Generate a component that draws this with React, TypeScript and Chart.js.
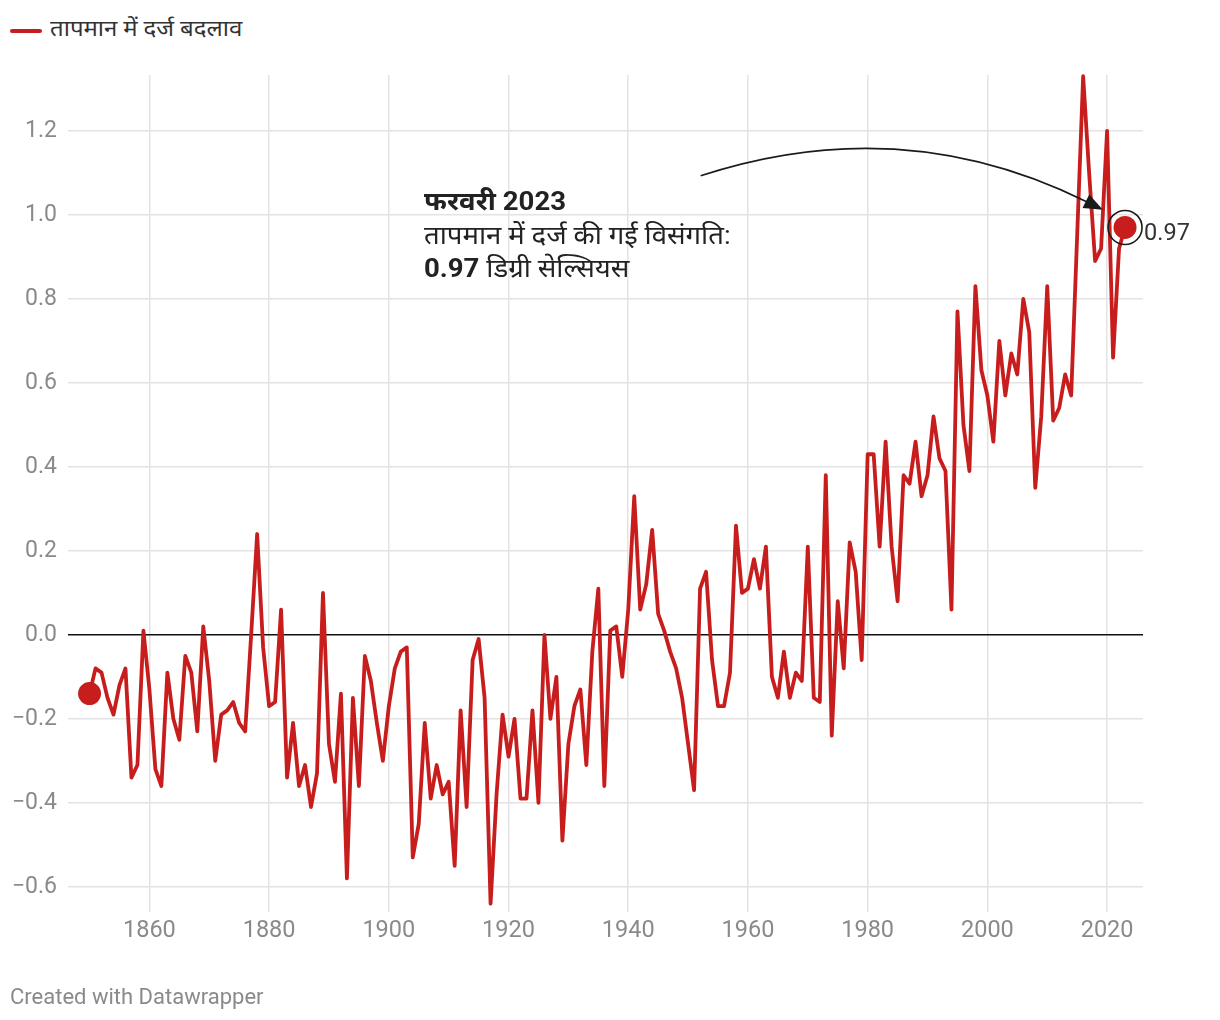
import React, { useEffect, useRef } from "react";
import { Chart, registerables } from "chart.js";

Chart.register(...registerables);

// ---- data ----
const FIRST_YEAR = 1850;
const TEMP_CHANGE: number[] = [
  // 1850s
  -0.14, -0.08, -0.09, -0.15, -0.19, -0.12, -0.08, -0.34, -0.31, 0.01,
  // 1860s
  -0.13, -0.32, -0.36, -0.09, -0.2, -0.25, -0.05, -0.09, -0.23, 0.02,
  // 1870s
  -0.11, -0.3, -0.19, -0.18, -0.16, -0.21, -0.23, 0.0, 0.24, -0.03,
  // 1880s
  -0.17, -0.16, 0.06, -0.34, -0.21, -0.36, -0.31, -0.41, -0.33, 0.1,
  // 1890s
  -0.26, -0.35, -0.14, -0.58, -0.15, -0.36, -0.05, -0.11, -0.21, -0.3,
  // 1900s
  -0.17, -0.08, -0.04, -0.03, -0.53, -0.45, -0.21, -0.39, -0.31, -0.38,
  // 1910s
  -0.35, -0.55, -0.18, -0.41, -0.06, -0.01, -0.15, -0.64, -0.38, -0.19,
  // 1920s
  -0.29, -0.2, -0.39, -0.39, -0.18, -0.4, 0.0, -0.2, -0.1, -0.49,
  // 1930s
  -0.26, -0.17, -0.13, -0.31, -0.04, 0.11, -0.36, 0.01, 0.02, -0.1,
  // 1940s
  0.06, 0.33, 0.06, 0.12, 0.25, 0.05, 0.01, -0.04, -0.08, -0.15,
  // 1950s
  -0.26, -0.37, 0.11, 0.15, -0.06, -0.17, -0.17, -0.09, 0.26, 0.1,
  // 1960s
  0.11, 0.18, 0.11, 0.21, -0.1, -0.15, -0.04, -0.15, -0.09, -0.11,
  // 1970s
  0.21, -0.15, -0.16, 0.38, -0.24, 0.08, -0.08, 0.22, 0.15, -0.06,
  // 1980s
  0.43, 0.43, 0.21, 0.46, 0.21, 0.08, 0.38, 0.36, 0.46, 0.33,
  // 1990s
  0.38, 0.52, 0.42, 0.39, 0.06, 0.77, 0.5, 0.39, 0.83, 0.63,
  // 2000s
  0.57, 0.46, 0.7, 0.57, 0.67, 0.62, 0.8, 0.72, 0.35, 0.52,
  // 2010s
  0.83, 0.51, 0.54, 0.62, 0.57, 0.95, 1.33, 1.1, 0.89, 0.92,
  // 2020s
  1.2, 0.66, 0.92, 0.97,
];
const YEARS: number[] = TEMP_CHANGE.map((_, i) => FIRST_YEAR + i);

const X_TICKS = [1860, 1880, 1900, 1920, 1940, 1960, 1980, 2000, 2020];
const Y_TICKS = [-0.6, -0.4, -0.2, 0, 0.2, 0.4, 0.6, 0.8, 1.0, 1.2];

const SERIES_LABEL = "तापमान में दर्ज बदलाव";
const ANNOTATION_TITLE = "फरवरी 2023";
const ANNOTATION_LINE2 = "तापमान में दर्ज की गई विसंगति:";
const ANNOTATION_VALUE = "0.97";
const ANNOTATION_UNIT = " डिग्री सेल्सियस";
const CREDIT = "Created with Datawrapper";

// ---- styles ----
const RED = "#c71e1d";
const GRID = "#e3e3e3";
const TICK_COLOR = "#8a8a8a";
const TEXT = "#222222";
const FONT = "Roboto, 'Noto Sans', sans-serif";

// annotation arrow, in data coordinates (year, value)
const ARROW_FROM = [1952.1, 1.093];
const ARROW_CTRL = [1985.8, 1.25];
const ARROW_TO = [2019.3, 1.012];

const fmtY = (v: number) => {
  const s = Math.abs(v).toFixed(1);
  return v < -1e-9 ? "\u2212" + s : s;
};

const overlayPlugin = {
  id: "overlay",
  beforeDatasetsDraw(chart: any) {
    const { ctx, chartArea, scales } = chart;
    const y0 = scales.y.getPixelForValue(0);
    ctx.save();
    ctx.strokeStyle = "#111";
    ctx.lineWidth = 1.5;
    ctx.beginPath();
    ctx.moveTo(chartArea.left, y0);
    ctx.lineTo(chartArea.right, y0);
    ctx.stroke();
    ctx.restore();
  },
  afterDatasetsDraw(chart: any) {
    const { ctx, scales } = chart;
    const xs = scales.x;
    const ys = scales.y;
    const meta = chart.getDatasetMeta(0);
    const last = meta.data[meta.data.length - 1];
    ctx.save();
    // ring around last point
    ctx.strokeStyle = "#1a1a1a";
    ctx.lineWidth = 1.6;
    ctx.beginPath();
    ctx.arc(last.x, last.y, 17, 0, Math.PI * 2);
    ctx.stroke();
    // value label
    ctx.fillStyle = "#333";
    ctx.font = `23.5px ${FONT}`;
    ctx.textAlign = "left";
    ctx.textBaseline = "alphabetic";
    ctx.fillText(TEMP_CHANGE[TEMP_CHANGE.length - 1].toFixed(2), last.x + 19, last.y + 13);
    // arrow
    const p0 = [xs.getPixelForValue(ARROW_FROM[0]), ys.getPixelForValue(ARROW_FROM[1])];
    const p1 = [xs.getPixelForValue(ARROW_CTRL[0]), ys.getPixelForValue(ARROW_CTRL[1])];
    const p2 = [xs.getPixelForValue(ARROW_TO[0]), ys.getPixelForValue(ARROW_TO[1])];
    let dx = p2[0] - p1[0];
    let dy = p2[1] - p1[1];
    const len = Math.hypot(dx, dy);
    dx /= len;
    dy /= len;
    const headLen = 19;
    const headW = 7.5;
    const bx = p2[0] - dx * headLen;
    const by = p2[1] - dy * headLen;
    ctx.strokeStyle = "#1a1a1a";
    ctx.lineWidth = 1.6;
    ctx.beginPath();
    ctx.moveTo(p0[0], p0[1]);
    ctx.quadraticCurveTo(p1[0], p1[1], bx + dx * 2, by + dy * 2);
    ctx.stroke();
    ctx.fillStyle = "#1a1a1a";
    ctx.beginPath();
    ctx.moveTo(p2[0], p2[1]);
    ctx.lineTo(bx - dy * headW, by + dx * headW);
    ctx.lineTo(bx + dy * headW, by - dx * headW);
    ctx.closePath();
    ctx.fill();
    ctx.restore();
  },
};

export default function App() {
  const canvasRef = useRef<HTMLCanvasElement | null>(null);

  useEffect(() => {
    const canvas = canvasRef.current;
    if (!canvas) return;
    const lastIdx = TEMP_CHANGE.length - 1;
    const chart = new Chart(canvas, {
      type: "line",
      data: {
        datasets: [
          {
            label: SERIES_LABEL,
            data: YEARS.map((yr, i) => ({ x: yr, y: TEMP_CHANGE[i] })),
            borderColor: RED,
            backgroundColor: RED,
            borderWidth: 3.8,
            borderJoinStyle: "round",
            tension: 0,
            clip: false,
            pointRadius: (c: any) => (c.dataIndex === 0 || c.dataIndex === lastIdx ? 11.5 : 0),
            pointBackgroundColor: RED,
            pointBorderWidth: 0,
            pointHoverRadius: 0,
          } as any,
        ],
      },
      options: {
        responsive: false,
        animation: false,
        events: [],
        layout: { padding: { top: 75, right: 77, bottom: 58, left: 0 } },
        plugins: {
          legend: { display: false },
          tooltip: { enabled: false },
        },
        scales: {
          x: {
            type: "linear",
            min: 1846.4,
            max: 2026,
            afterBuildTicks: (s: any) => {
              s.ticks = X_TICKS.map((v) => ({ value: v }));
            },
            afterFit: (s: any) => {
              s.height = 50;
            },
            border: { display: false },
            grid: { color: GRID, lineWidth: 1.5, drawTicks: false },
            ticks: {
              padding: 5,
              color: TICK_COLOR,
              font: { family: FONT, size: 23.5 },
              maxRotation: 0,
              callback: (v: any) => String(v),
            },
          },
          y: {
            type: "linear",
            min: -0.66,
            max: 1.333,
            afterBuildTicks: (s: any) => {
              s.ticks = Y_TICKS.map((v) => ({ value: v }));
            },
            afterFit: (s: any) => {
              s.width = 68;
            },
            border: { display: false },
            grid: {
              color: (c: any) => (c.tick && Math.abs(c.tick.value) < 1e-9 ? "rgba(0,0,0,0)" : GRID),
              lineWidth: 1.5,
              drawTicks: false,
            },
            ticks: {
              padding: 11,
              color: TICK_COLOR,
              font: { family: FONT, size: 23 },
              callback: (v: any) => fmtY(Number(v)),
            },
          },
        },
      },
      plugins: [overlayPlugin],
    } as any);
    return () => chart.destroy();
  }, []);

  return (
    <div
      style={{
        position: "absolute",
        left: 0,
        top: 0,
        width: 1220,
        height: 1020,
        background: "#fff",
        fontFamily: FONT,
        overflow: "hidden",
      }}
    >
      <div style={{ position: "absolute", left: 10, top: 29, width: 32, height: 3.5, background: RED, borderRadius: 2 }} />
      <div
        style={{
          position: "absolute",
          left: 50,
          top: 14,
          fontSize: 22,
          lineHeight: "30px",
          color: "#333",
          whiteSpace: "nowrap",
          transform: "scaleX(1.09)",
          transformOrigin: "left center",
        }}
      >
        {SERIES_LABEL}
      </div>
      <canvas ref={canvasRef} width={1220} height={1020} style={{ position: "absolute", left: 0, top: 0 }} />
      <div
        style={{
          position: "absolute",
          left: 424,
          top: 185,
          fontSize: 26,
          lineHeight: "33.5px",
          color: TEXT,
          whiteSpace: "nowrap",
          transform: "scaleX(1.06)",
          transformOrigin: "left top",
        }}
      >
        <div style={{ fontWeight: 700 }}>{ANNOTATION_TITLE}</div>
        <div>{ANNOTATION_LINE2}</div>
        <div>
          <b>{ANNOTATION_VALUE}</b>
          {ANNOTATION_UNIT}
        </div>
      </div>
      <div
        style={{
          position: "absolute",
          left: 10,
          top: 982,
          fontSize: 22,
          lineHeight: "30px",
          color: "#8a8a8a",
          whiteSpace: "nowrap",
        }}
      >
        {CREDIT}
      </div>
    </div>
  );
}
